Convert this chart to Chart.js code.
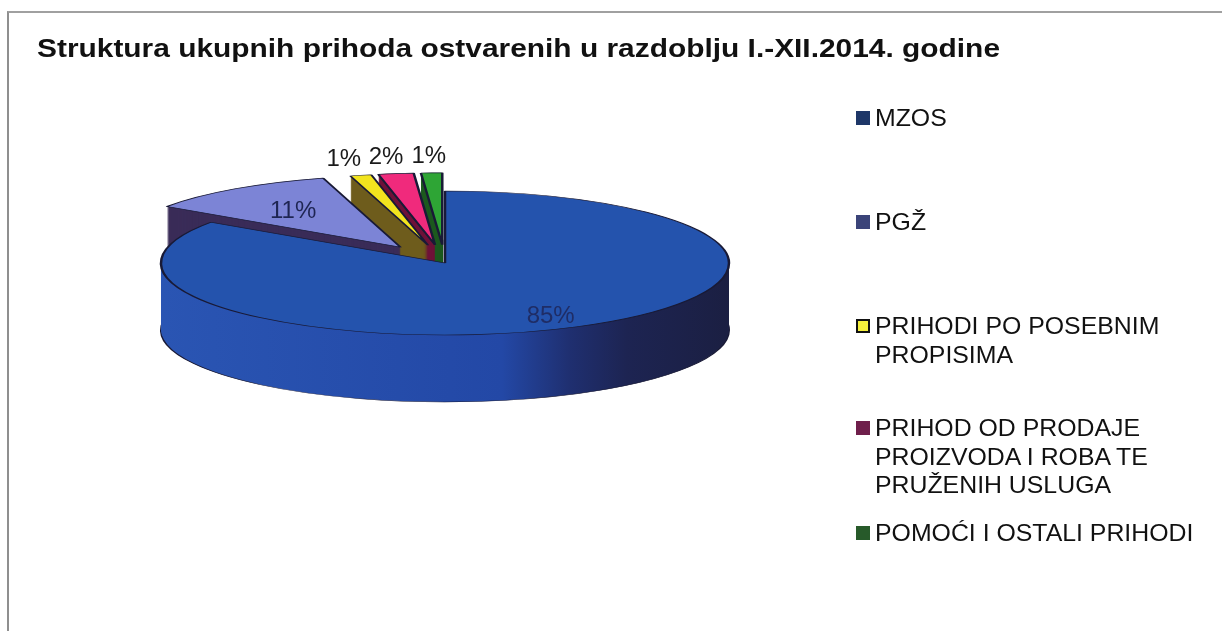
<!DOCTYPE html>
<html>
<head>
<meta charset="utf-8">
<script src="https://cdn.jsdelivr.net/npm/chart.js@4.4.1/dist/chart.umd.min.js"></script>
<style>
html,body{margin:0;padding:0;background:#fff;width:1222px;height:631px;overflow:hidden;}
#wrap{position:relative;width:1222px;height:631px;}
#frame{position:absolute;left:7px;top:11px;width:1300px;height:700px;border-top:2px solid #a0a0a0;border-left:2px solid #8f8f8f;}
#c{position:absolute;left:0;top:0;}
#title{position:absolute;left:37px;top:33px;font:bold 25px "Liberation Sans",Arial,sans-serif;line-height:30px;color:#111;white-space:nowrap;transform-origin:0 0;}
.leg{position:absolute;left:856px;}
.sw{position:absolute;left:0;top:7px;width:14px;height:14px;box-sizing:border-box;}
.tx{position:absolute;left:19px;top:0;font:24px "Liberation Sans",Arial,sans-serif;line-height:28.5px;color:#111;white-space:nowrap;transform:scaleX(1.035);transform-origin:0 0;}
</style>
</head>
<body>
<div id="wrap">
  <div id="frame"></div>
  <canvas id="c" width="1222" height="631"></canvas>
  <div id="title">Struktura ukupnih prihoda ostvarenih u razdoblju I.-XII.2014. godine</div>
  <div id="legend"></div>
</div>
<script>
// ---- data ----
const categories = [
  ['MZOS'],
  ['PGŽ'],
  ['PRIHODI PO POSEBNIM', 'PROPISIMA'],
  ['PRIHOD OD PRODAJE', 'PROIZVODA I ROBA TE', 'PRUŽENIH USLUGA'],
  ['POMOĆI I OSTALI PRIHODI']
];
const shares = [84.6, 11.0, 1.2, 2.0, 1.2];

// ---- styles ----
const topColors  = ['#2453ad', '#7c84d6', '#f2e41e', '#f02a7c', '#2ea535'];
const sideColors = [null, '#3a2c58', '#6e5c1c', '#6e1138', '#1d5a1f'];
const swatchColors = ['#1e3768', '#3b4479', '#f5f03c', '#6f1f4b', '#275a2a'];
const swatchBorders = [null, null, '#111', null, null];
const legendCenters = [118, 222, 326, 428, 533];
const explode = [0, 76, 72, 72, 72];
const labelColors = ['#1f2d66', '#1e2552', '#1a1a1a', '#1a1a1a', '#1a1a1a'];
const PIE_R = 284, SQUASH = 72 / 284, DEPTH = 67;

// legend (HTML text)
const legEl = document.getElementById('legend');
categories.forEach((lines, i) => {
  const d = document.createElement('div');
  d.className = 'leg';
  d.style.top = (legendCenters[i] - 14) + 'px';
  const sw = document.createElement('div');
  sw.className = 'sw';
  sw.style.background = swatchColors[i];
  if (swatchBorders[i]) sw.style.border = '2px solid ' + swatchBorders[i];
  const tx = document.createElement('div');
  tx.className = 'tx';
  tx.innerHTML = lines.join('<br>');
  d.appendChild(sw); d.appendChild(tx);
  legEl.appendChild(d);
});

const pie3d = {
  id: 'pie3d',
  beforeDatasetsDraw(chart) {
    const ctx = chart.ctx;
    const arcs = chart.getDatasetMeta(0).data;
    const cy = arcs[0].y;
    const grad = ctx.createLinearGradient(arcs[0].x - PIE_R, 0, arcs[0].x + PIE_R, 0);
    grad.addColorStop(0, '#2a55b3');
    grad.addColorStop(0.6, '#2348a6');
    grad.addColorStop(0.72, '#1f2f70');
    grad.addColorStop(0.82, '#1d2452');
    grad.addColorStop(1, '#1b1f42');
    const drawOne = (arc, i, dy, over) => {
      const mid = (arc.startAngle + arc.endAngle) / 2;
      const e = explode[i];
      ctx.save();
      ctx.translate(0, cy + dy);
      ctx.scale(1, SQUASH);
      ctx.translate(Math.cos(mid) * e, -cy + Math.sin(mid) * e);
      const o = arc.options;
      arc.options = Object.assign({}, o, over);
      arc.draw(ctx);
      arc.options = o;
      ctx.restore();
    };
    for (let d = DEPTH; d >= 1; d--) {
      arcs.forEach((arc, i) => drawOne(arc, i, d, {
        backgroundColor: i === 0 ? grad : sideColors[i],
        borderWidth: d === DEPTH ? 2 : 0
      }));
    }
    arcs.forEach((arc, i) => drawOne(arc, i, 0, {}));
    return false;
  },
  afterDraw(chart) {
    const ctx = chart.ctx;
    const arcs = chart.getDatasetMeta(0).data;
    const total = shares.reduce((a, b) => a + b, 0);
    ctx.save();
    ctx.font = '24px "Liberation Sans", Arial, sans-serif';
    ctx.textAlign = 'center';
    ctx.textBaseline = 'alphabetic';
    arcs.forEach((arc, i) => {
      const mid = (arc.startAngle + arc.endAngle) / 2;
      const pct = shares[i] / total * 100;
      const r = pct > 50 ? 0.8 * arc.outerRadius : pct >= 5 ? 0.65 * arc.outerRadius : arc.outerRadius + 72;
      const px = arc.x + Math.cos(mid) * (explode[i] + r);
      const py = arc.y + Math.sin(mid) * (explode[i] + r);
      const sx = px, sy = arc.y + (py - arc.y) * SQUASH;
      ctx.fillStyle = labelColors[i];
      ctx.fillText(Math.round(pct) + '%', sx, sy + 0.358 * 24);
    });
    ctx.restore();
  }
};

new Chart(document.getElementById('c'), {
  type: 'pie',
  data: {
    labels: categories,
    datasets: [{
      data: shares,
      backgroundColor: topColors,
      borderColor: '#191a36',
      borderWidth: 2.5,
      radius: PIE_R
    }]
  },
  options: {
    responsive: false,
    animation: false,
    events: [],
    radius: PIE_R,
    layout: { padding: { left: 0, right: 332, top: 0, bottom: 105 } },
    plugins: { legend: { display: false }, title: { display: false }, tooltip: { enabled: false } }
  },
  plugins: [pie3d]
});

// fit title width to reference
const t = document.getElementById('title');
const w = t.getBoundingClientRect().width;
t.style.transform = 'scaleX(' + (963 / w) + ')';
</script>
</body>
</html>
